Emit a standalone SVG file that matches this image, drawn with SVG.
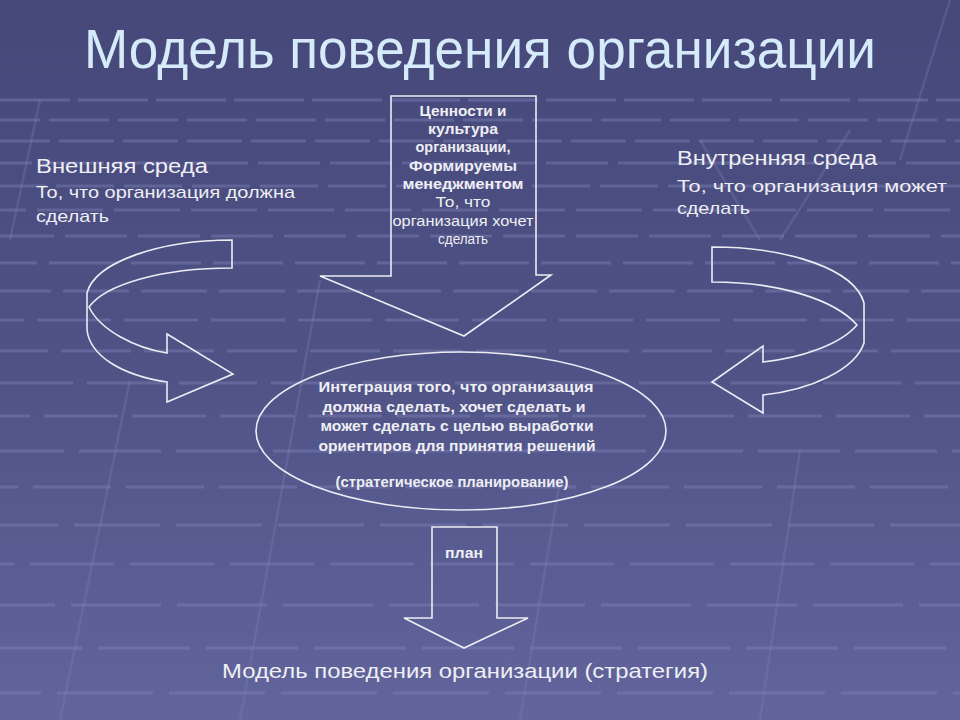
<svg xmlns="http://www.w3.org/2000/svg" width="960" height="720" viewBox="0 0 960 720">
<defs>
<linearGradient id="bg" x1="0" y1="0" x2="0" y2="1">
<stop offset="0" stop-color="#46487a"/>
<stop offset="0.5" stop-color="#4f5285"/>
<stop offset="1" stop-color="#62659c"/>
</linearGradient>
<style>
.grid{stroke:#8588bb;stroke-width:3;opacity:0.4;fill:none}
.diag{stroke:#7f82b6;stroke-width:2.5;opacity:0.3;fill:none}
.shape{fill:none;stroke:#ececf4;stroke-width:1.6;stroke-linejoin:miter}
.t{font-family:"Liberation Sans",Arial,sans-serif;fill:#eeeef4}
.b{font-weight:bold}
.c{text-anchor:middle}
</style>
</defs>
<rect width="960" height="720" fill="url(#bg)"/>
<g id="background-grid">
<line class="grid" x1="0" y1="100" x2="960" y2="100" stroke-dasharray="70 8"/>
<line class="grid" x1="0" y1="120" x2="960" y2="120" stroke-dasharray="60 9" stroke-dashoffset="20"/>
<line class="grid" x1="0" y1="141" x2="960" y2="141" stroke-dasharray="55 9" stroke-dashoffset="5"/>
<line class="grid" x1="0" y1="163" x2="960" y2="163" stroke-dasharray="62 10" stroke-dashoffset="30"/>
<line class="grid" x1="0" y1="186" x2="960" y2="186" stroke-dasharray="58 10" stroke-dashoffset="12"/>
<line class="grid" x1="0" y1="210" x2="960" y2="210" stroke-dasharray="66 11" stroke-dashoffset="40"/>
<line class="grid" x1="0" y1="236" x2="960" y2="236" stroke-dasharray="62 11" stroke-dashoffset="8"/>
<line class="grid" x1="0" y1="263" x2="960" y2="263" stroke-dasharray="70 12" stroke-dashoffset="33"/>
<line class="grid" x1="0" y1="291" x2="960" y2="291" stroke-dasharray="66 12" stroke-dashoffset="15"/>
<line class="grid" x1="0" y1="320" x2="960" y2="320" stroke-dasharray="74 13" stroke-dashoffset="50"/>
<line class="grid" x1="0" y1="351" x2="960" y2="351" stroke-dasharray="70 13" stroke-dashoffset="22"/>
<line class="grid" x1="0" y1="383" x2="960" y2="383" stroke-dasharray="78 14" stroke-dashoffset="5"/>
<line class="grid" x1="0" y1="416" x2="960" y2="416" stroke-dasharray="74 14" stroke-dashoffset="44"/>
<line class="grid" x1="0" y1="451" x2="960" y2="451" stroke-dasharray="82 15" stroke-dashoffset="18"/>
<line class="grid" x1="0" y1="487" x2="960" y2="487" stroke-dasharray="78 15" stroke-dashoffset="60"/>
<line class="grid" x1="0" y1="525" x2="960" y2="525" stroke-dasharray="86 16" stroke-dashoffset="28"/>
<line class="grid" x1="0" y1="564" x2="960" y2="564" stroke-dasharray="84 16" stroke-dashoffset="70"/>
<line class="grid" x1="0" y1="605" x2="960" y2="605" stroke-dasharray="90 16" stroke-dashoffset="35"/>
<line class="grid" x1="0" y1="648" x2="960" y2="648" stroke-dasharray="92 16" stroke-dashoffset="10"/>
<line class="grid" x1="0" y1="693" x2="960" y2="693" stroke-dasharray="96 16" stroke-dashoffset="55"/>
<line class="diag" x1="130" y1="380" x2="60" y2="720"/>
<line class="diag" x1="320" y1="280" x2="240" y2="720"/>
<line class="diag" x1="560" y1="480" x2="520" y2="720"/>
<line class="diag" x1="800" y1="450" x2="760" y2="720"/>
<line class="diag" x1="950" y1="0" x2="900" y2="160"/>
<line class="diag" x1="700" y1="140" x2="760" y2="240"/>
<line class="diag" x1="850" y1="130" x2="780" y2="240"/>
<line class="diag" x1="40" y1="100" x2="10" y2="240"/>
</g>
<text class="t" x="480" y="68" text-anchor="middle" font-size="56" style="fill:#d6ebfa" textLength="792" lengthAdjust="spacingAndGlyphs">Модель поведения организации</text>
<g id="external">
<text class="t" x="36" y="173" font-size="19.5" textLength="172" lengthAdjust="spacingAndGlyphs">Внешняя среда</text>
<text class="t" x="36" y="198" font-size="17" textLength="259" lengthAdjust="spacingAndGlyphs">То, что организация должна</text>
<text class="t" x="36" y="222" font-size="17" textLength="73" lengthAdjust="spacingAndGlyphs">сделать</text>
</g>
<g id="internal">
<text class="t" x="677" y="165" font-size="19.5" textLength="200" lengthAdjust="spacingAndGlyphs">Внутренняя среда</text>
<text class="t" x="677" y="192" font-size="17" textLength="270" lengthAdjust="spacingAndGlyphs">То, что организация может</text>
<text class="t" x="677" y="214" font-size="17" textLength="73" lengthAdjust="spacingAndGlyphs">сделать</text>
</g>
<g id="connectors">
<path class="shape" d="M232,240 L232,268 C160,268 105,285 89,307 C100,330 135,348 167,353 L167,334 L233,374 L167,402 L167,382 C120,375 90,355 87,330 L87,293 C95,262 160,240 232,240 Z"/>
<path class="shape" d="M712,247 L712,282 C780,282 835,300 857,325 C840,345 800,358 763,362 L763,346 L712,382 L763,413 L763,395 C810,390 855,370 864,343 L864,303 C855,270 790,247 712,247 Z"/>
</g>
<g id="values">
<path class="shape" d="M391,96 L536,96 L536,275 L551,275 L464,336 L320,276 L391,276 Z"/>
<g class="t c" font-size="14">
<text class="b" x="463" y="116" textLength="87" lengthAdjust="spacingAndGlyphs">Ценности и</text>
<text class="b" x="463" y="134" textLength="70" lengthAdjust="spacingAndGlyphs">культура</text>
<text class="b" x="463" y="152" textLength="95" lengthAdjust="spacingAndGlyphs">организации,</text>
<text class="b" x="463" y="171" textLength="108" lengthAdjust="spacingAndGlyphs">Формируемы</text>
<text class="b" x="463" y="189" textLength="121" lengthAdjust="spacingAndGlyphs">менеджментом</text>
<text x="463" y="207" textLength="55" lengthAdjust="spacingAndGlyphs">То, что</text>
<text x="463" y="226" textLength="141" lengthAdjust="spacingAndGlyphs">организация хочет</text>
<text x="463" y="244" textLength="50" lengthAdjust="spacingAndGlyphs">сделать</text>
</g>
</g>
<g id="integration">
<ellipse class="shape" cx="461" cy="431" rx="205" ry="79"/>
<g class="t c b" font-size="14.5">
<text x="456" y="392" textLength="275" lengthAdjust="spacingAndGlyphs">Интеграция того, что организация</text>
<text x="454" y="412" textLength="263" lengthAdjust="spacingAndGlyphs">должна сделать, хочет сделать и</text>
<text x="457" y="431" textLength="273" lengthAdjust="spacingAndGlyphs">может сделать с целью выработки</text>
<text x="457" y="451" textLength="277" lengthAdjust="spacingAndGlyphs">ориентиров для принятия решений</text>
<text x="452" y="487" textLength="233" lengthAdjust="spacingAndGlyphs">(стратегическое планирование)</text>
</g>
</g>
<g id="plan">
<path class="shape" d="M432,527 L497,527 L497,618 L528,618 L464,648 L404,618 L432,618 Z"/>
<text class="t b c" x="464" y="558" font-size="14" textLength="38" lengthAdjust="spacingAndGlyphs">план</text>
</g>
<g id="strategy">
<text class="t c" x="465" y="678" font-size="21" textLength="486" lengthAdjust="spacingAndGlyphs">Модель поведения организации (стратегия)</text>
</g>
</svg>
